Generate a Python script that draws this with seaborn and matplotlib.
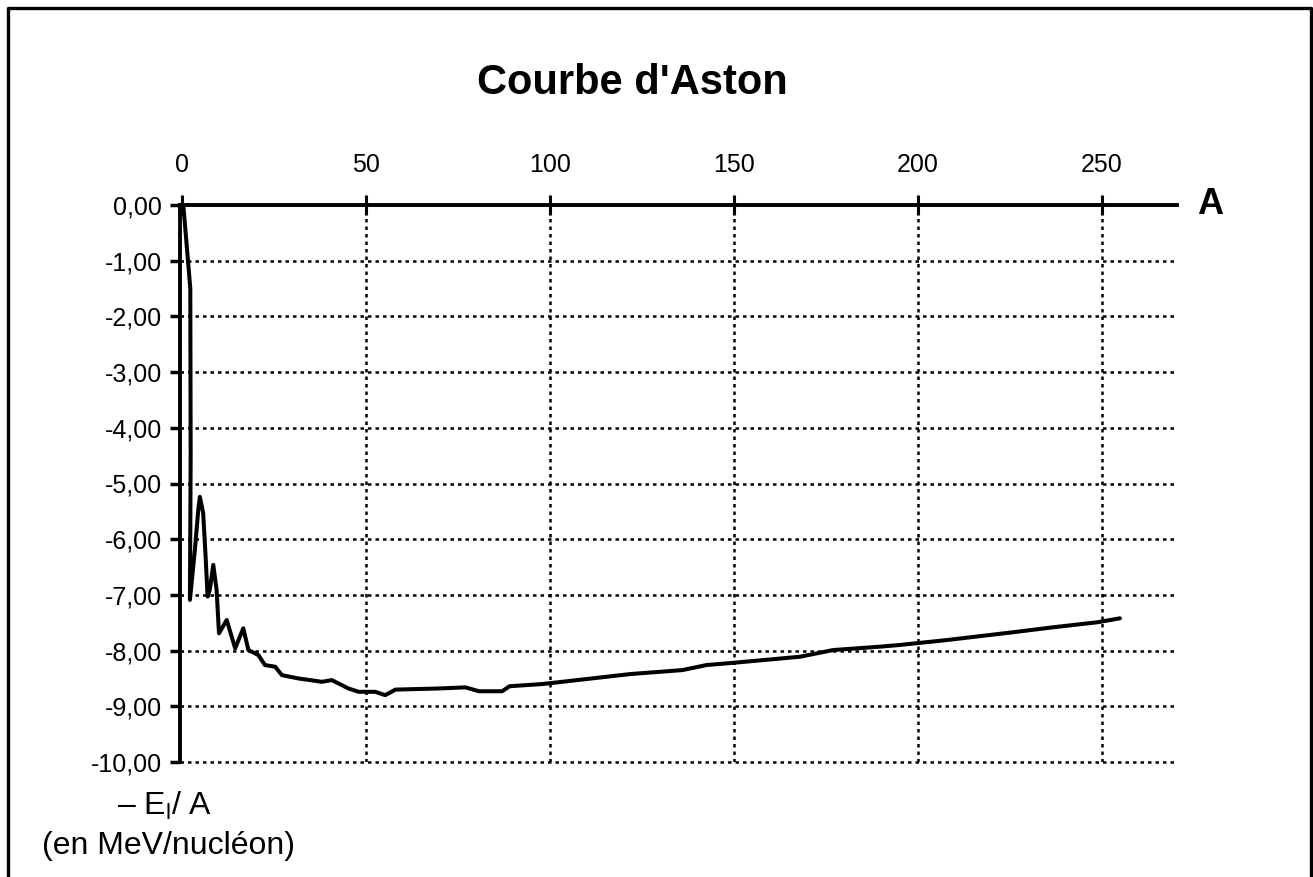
import matplotlib
matplotlib.use("Agg")
import matplotlib.pyplot as plt
from matplotlib.lines import Line2D
import seaborn as sns
import pandas as pd

# ---- data ----
mass_number = [0.3, 2.2, 2.3, 2.1, 3.45, 4.36, 4.8, 5.7, 6.36, 6.9, 7.5, 8.45, 9.35, 10.0,
               12.1, 14.4, 16.6, 18.0, 20.7, 22.5, 25.3, 27.1, 31.6, 38.0, 40.7, 45.2,
               48.0, 52.5, 55.2, 58.0, 69.8, 77.0, 80.7, 87.0, 89.0, 98.0, 110.0, 122.0,
               136.0, 142.5, 149.7, 168.0, 177.0, 189.6, 195.0, 208.0, 226.0, 237.0,
               249.0, 255.0]
energy_per_nucleon = [0.0, -1.5, -4.5, -7.09, -6.19, -5.48, -5.24, -5.53, -6.31, -7.03,
                      -6.91, -6.46, -6.91, -7.69, -7.45, -7.96, -7.60, -7.99, -8.08, -8.26,
                      -8.29, -8.44, -8.50, -8.56, -8.53, -8.68, -8.74, -8.74, -8.80, -8.70,
                      -8.68, -8.66, -8.73, -8.73, -8.64, -8.60, -8.51, -8.42, -8.35, -8.26,
                      -8.22, -8.11, -7.99, -7.93, -7.90, -7.81, -7.67, -7.58, -7.49, -7.42]
x_ticks = [0, 50, 100, 150, 200, 250]
x_tick_labels = ["0", "50", "100", "150", "200", "250"]
y_ticks = [0, -1, -2, -3, -4, -5, -6, -7, -8, -9, -10]
y_tick_labels = ["0,00", "-1,00", "-2,00", "-3,00", "-4,00", "-5,00", "-6,00",
                 "-7,00", "-8,00", "-9,00", "-10,00"]
title = "Courbe d'Aston"
x_label = "A"
y_label_1 = r"– E$_{\mathrm{l}}$/ A"
y_label_2 = "(en MeV/nucléon)"

sns.set_theme(style="white")
plt.rcParams["font.family"] = ["Liberation Sans", "DejaVu Sans"]
plt.rcParams["mathtext.fontset"] = "custom"
plt.rcParams["mathtext.rm"] = "Liberation Sans"
plt.rcParams["mathtext.it"] = "Liberation Sans:italic"
plt.rcParams["mathtext.bf"] = "Liberation Sans:bold"

W, H = 1313, 877
fig = plt.figure(figsize=(W / 100, H / 100), dpi=100)
fig.patch.set_facecolor("white")
ax = fig.add_axes([180 / W, 1 - 762 / H, 997 / W, 557 / H])

df = pd.DataFrame({"A": mass_number, "E": energy_per_nucleon})
sns.lineplot(data=df, x="A", y="E", sort=False, estimator=None, color="black",
             linewidth=2.9, ax=ax, zorder=5, clip_on=False)

ax.set_xlim(-0.6, 270.5)
ax.set_ylim(-10, 0)

ax.xaxis.tick_top()
ax.set_xticks(x_ticks)
ax.set_xticklabels(x_tick_labels, fontsize=18)
ax.set_yticks(y_ticks)
ax.set_yticklabels(y_tick_labels, fontsize=18)
ax.tick_params(axis="x", direction="inout", length=14, width=2.2, pad=13, colors="black")
ax.tick_params(axis="y", direction="out", length=7, width=2.5, pad=6, colors="black",
               left=True)
ax.set_xlabel("")
ax.set_ylabel("")

ax.grid(True, color="black", linestyle=(0, (1.4, 1.6)), linewidth=1.8, zorder=1)
ax.set_axisbelow(True)
for gl in ax.get_ygridlines():
    gl.set_clip_on(False)
ax.get_xgridlines()[0].set_visible(False)

for side in ["right", "bottom"]:
    ax.spines[side].set_visible(False)
for side in ["top", "left"]:
    ax.spines[side].set_visible(True)
    ax.spines[side].set_color("black")
    ax.spines[side].set_linewidth(2.8)
    ax.spines[side].set_zorder(6)

fig.text(632 / W, 1 - 83 / H, title, ha="center", va="center", fontsize=30,
         fontweight="bold", color="black")
fig.text(1210 / W, 1 - 205 / H, x_label, ha="center", va="center", fontsize=26,
         fontweight="bold", color="black")
fig.text(165 / W, 1 - 806 / H, y_label_1, ha="center", va="center", fontsize=23,
         color="black")
fig.text(169 / W, 1 - 846 / H, y_label_2, ha="center", va="center", fontsize=23,
         color="black")

# outer frame (left, top, right)
frame = Line2D([7.5 / W, 7.5 / W, 1311 / W, 1311 / W],
               [0, 1 - 8 / H, 1 - 8 / H, 0], transform=fig.transFigure,
               color="black", linewidth=2.4)
fig.add_artist(frame)

fig.savefig("out.png", dpi=100, facecolor="white")
